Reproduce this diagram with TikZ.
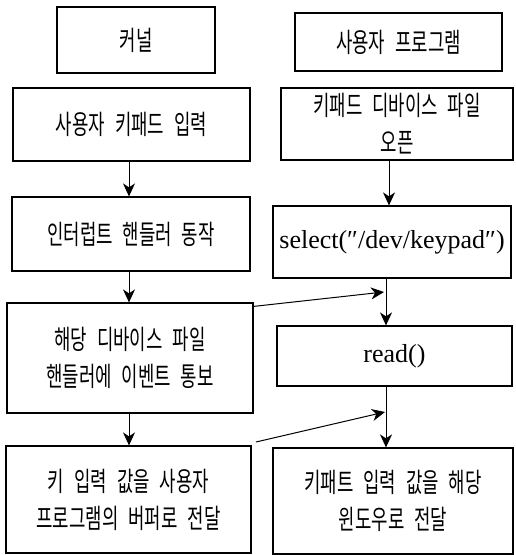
\documentclass[tikz,border=0pt]{standalone}
\usepackage{fontspec}
\setmainfont{Liberation Serif}
\newfontfamily\kr{Noto Sans CJK KR}[FakeStretch=0.66]
\newcommand\krfont{\kr\fontsize{27}{37}\selectfont\spaceskip 10pt\relax}
\newcommand\ltfont{\fontsize{26}{30}\selectfont}
\usetikzlibrary{arrows.meta}
\tikzset{
  box/.style={draw, line width=1.2pt, inner sep=0pt, align=center, font=\krfont},
  latin/.style={font=\ltfont},
  arr/.style={line width=1pt, -{Stealth[length=13pt,width=12pt,inset=4pt]}}
}
\begin{document}
\begin{tikzpicture}[x=1pt,y=-1pt]
\useasboundingbox (0,0) rectangle (516,555);
\node[box, minimum width=158pt, minimum height=66pt] (L1) at (136,40) {커널};
\node[box, minimum width=207pt, minimum height=58pt] (R1) at (398.5,42) {사용자 프로그램};
\node[box, minimum width=237pt, minimum height=73pt] (L2) at (131.5,124.5) {사용자 키패드 입력};
\node[box, minimum width=232pt, minimum height=72pt] (R2) at (397,124) {키패드 디바이스 파일\\오픈};
\node[box, minimum width=238pt, minimum height=74pt] (L3) at (131,234) {인터럽트 핸들러 동작};
\node[box, latin, minimum width=238pt, minimum height=72pt] (R3) at (392,242) {select(″/dev/keypad″)};
\node[box, minimum width=246pt, minimum height=110pt] (L4) at (130,358) {해당 디바이스 파일\\핸들러에 이벤트 통보};
\node[box, latin, minimum width=235pt, minimum height=60pt] (R4) at (394.5,356) {read()};
\node[box, minimum width=245pt, minimum height=107pt] (L5) at (128.5,499.5) {키 입력 값을 사용자\\프로그램의 버퍼로 전달};
\node[box, minimum width=240pt, minimum height=106pt] (R5) at (393,501) {키패트 입력 값을 해당\\윈도우로 전달};
\coordinate (lx) at (129,0);
\coordinate (rx) at (386,0);
\coordinate (rx2) at (389,0);
\coordinate (d1) at (384,292);
\coordinate (s2) at (256,442);
\coordinate (d2) at (385,412);
\draw[arr] (L2.south -| lx) -- (L3.north -| lx);
\draw[arr] (L3.south -| lx) -- (L4.north -| lx);
\draw[arr] (L4.south -| lx) -- (L5.north -| lx);
\draw[arr] (R2.south -| rx2) -- (R3.north -| rx2);
\draw[arr] (R3.south -| rx) -- (R4.north -| rx);
\draw[arr] (R4.south -| rx) -- (R5.north -| rx);
\draw[arr] ([yshift=-4pt]L4.north east) -- (d1);
\draw[arr] (s2) -- (d2);
\end{tikzpicture}
\end{document}
